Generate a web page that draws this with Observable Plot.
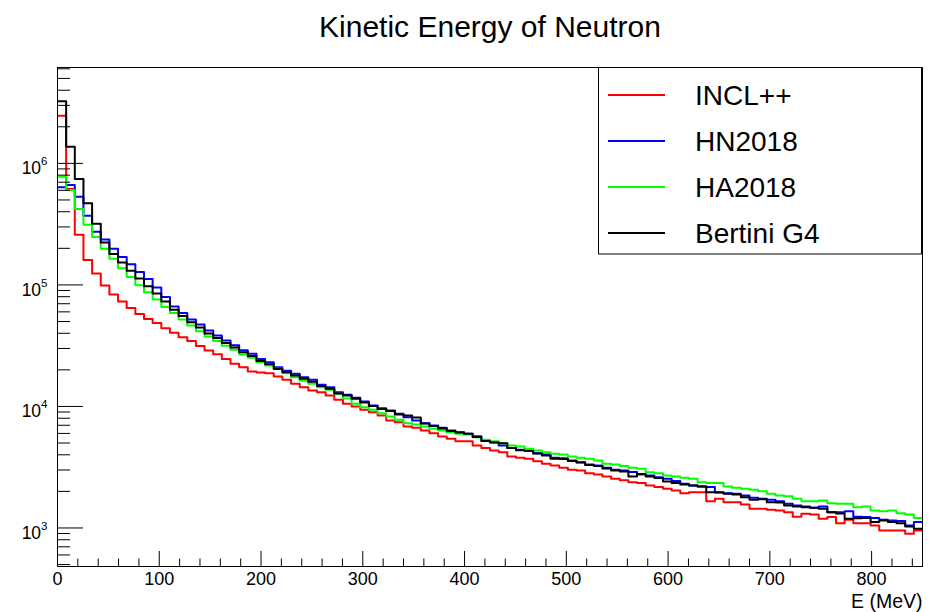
<!DOCTYPE html>
<html><head><meta charset="utf-8">
<script src="https://cdn.jsdelivr.net/npm/d3@7"></script>
<script src="https://cdn.jsdelivr.net/npm/@observablehq/plot@0.6"></script>
<style>
body{margin:0;background:#fff;}
#chart{width:939px;height:612px;position:relative;}
</style>
</head><body><div id="chart"></div>
<script>
const seriesNames = ["INCL++", "HN2018", "HA2018", "Bertini G4"];
const seriesColors = ["#ff0000", "#0000ff", "#00ff00", "#000000"];
const titleText = "Kinetic Energy of Neutron";
const xLabel = "E (MeV)";
const binWidth = 8.5;
const xMax = 850;
const xTickLabels = [0, 100, 200, 300, 400, 500, 600, 700, 800];
const yTickValues = [1e3, 1e4, 1e5, 1e6];

const incl = [2470000, 616000, 259000, 160000, 124000, 98700, 83200, 72900, 64700, 57700,
  52500, 48500, 43900, 40400, 37100, 34500, 31500, 28800, 26900, 24600,
  22500, 21000, 19400, 19000, 18750, 17600, 16550, 15350, 14400, 13500,
  13100, 12300, 11330, 10500, 9980, 9380, 8960, 8420, 7660, 7420,
  6830, 6670, 6340, 6020, 5660, 5410, 5170, 5170, 4770, 4560,
  4340, 4200, 3870, 3780, 3710, 3540, 3370, 3270, 3130, 3010,
  2970, 2820, 2750, 2650, 2540, 2470, 2380, 2340, 2240, 2170,
  2100, 2030, 1930, 1970, 1970, 1660, 1740, 1630, 1630, 1560,
  1440, 1440, 1410, 1390, 1350, 1240, 1310, 1290, 1190, 1230,
  1095, 1170, 1095, 1095, 1050, 954, 954, 954, 896, 954];

const hn2018 = [635000, 664000, 532000, 371000, 274000, 236000, 198000, 170000, 148000, 128000,
  111600, 95000, 79700, 66300, 58600, 52000, 47200, 42100, 38300, 34800,
  31900, 29000, 27100, 24600, 23100, 21000, 19700, 18550, 17400, 16550,
  15100, 14400, 13100, 12500, 11800, 11000, 10200, 9660, 9250, 8700,
  8150, 7660, 7270, 6960, 6670, 6340, 6140, 5950, 5690, 5240,
  5080, 4770, 4560, 4400, 4340, 4120, 4020, 3780, 3750, 3590,
  3480, 3330, 3270, 3130, 3010, 2970, 2890, 2750, 2700, 2620,
  2540, 2430, 2310, 2240, 2190, 2170, 1970, 1930, 1910, 1850,
  1770, 1740, 1710, 1660, 1580, 1530, 1500, 1470, 1500, 1350,
  1350, 1375, 1240, 1230, 1210, 1170, 1150, 1140, 1050, 1120];

const ha2018 = [777000, 604000, 422000, 313000, 248000, 198000, 164000, 137000, 116000, 99200,
  87000, 76000, 65700, 58600, 52000, 46300, 41500, 37600, 34600, 31600,
  29300, 26800, 25100, 23100, 21700, 20400, 18750, 17400, 16300, 15350,
  14400, 13700, 12700, 11600, 10500, 9850, 9380, 8800, 8260, 7760,
  7270, 7100, 6830, 6540, 6340, 6140, 5950, 5870, 5580, 5310,
  5170, 4980, 4770, 4680, 4480, 4340, 4200, 4080, 4020, 3870,
  3780, 3710, 3590, 3370, 3330, 3240, 3130, 3070, 2880, 2820,
  2700, 2650, 2590, 2540, 2380, 2340, 2340, 2190, 2140, 2100,
  2060, 2010, 1910, 1850, 1820, 1740, 1660, 1660, 1680, 1600,
  1580, 1580, 1480, 1500, 1390, 1375, 1390, 1320, 1290, 1210];

const bertini = [3240000, 1370000, 744000, 469000, 318000, 223000, 180000, 153000, 131000, 112700,
  97700, 84800, 72900, 62600, 55400, 49300, 44600, 39800, 36500, 33200,
  30500, 27900, 26000, 23700, 22200, 20300, 19100, 18000, 16900, 16000,
  14700, 14000, 12800, 12300, 11550, 10800, 10100, 9520, 9170, 8580,
  8420, 8100, 7230, 6900, 6580, 6280, 6100, 5950, 5600, 5190,
  5050, 4980, 4550, 4360, 4300, 4100, 3950, 3710, 3690, 3560,
  3460, 3300, 3240, 3090, 2970, 2910, 2650, 2780, 2650, 2580,
  2410, 2340, 2280, 2240, 2190, 1970, 1960, 1910, 1885, 1790,
  1710, 1720, 1630, 1620, 1530, 1500, 1480, 1470, 1440, 1350,
  1315, 1190, 1200, 1210, 1120, 1150, 1120, 1095, 1030, 985];

const allSeries = [incl, hn2018, ha2018, bertini];
const rows = [];
allSeries.forEach((vals, s) => {
  vals.forEach((v, i) => rows.push({series: seriesNames[s], e: i * binWidth, v}));
  rows.push({series: seriesNames[s], e: xMax, v: vals[vals.length - 1]});
});

const W = 939, H = 612, mt = 67, ml = 57, mr = 17, mb = 46;
const fw = W - ml - mr, fh = H - mt - mb;
const yDomain = [482, 6.15e6];
const majorX = xTickLabels;
const minorX = d3.range(0, xMax + 1, 20).filter(d => d % 100 !== 0);
const minorY = [];
for (let p = 2; p <= 6; p++) for (let m = 2; m <= 9; m++) {
  const v = m * Math.pow(10, p);
  if (v >= yDomain[0] && v <= yDomain[1]) minorY.push(v);
}
const font = "'Liberation Sans', Arial, Helvetica, sans-serif";

const plot = Plot.plot({
  width: W, height: H,
  marginTop: mt, marginLeft: ml, marginRight: mr, marginBottom: mb,
  style: {fontFamily: font, background: "white", color: "black", overflow: "visible"},
  x: {domain: [0, xMax], axis: null},
  y: {type: "log", domain: yDomain, axis: null},
  color: {domain: seriesNames, range: seriesColors},
  marks: [
    Plot.line(rows, {x: "e", y: "v", z: "series", stroke: "series", strokeWidth: 2, curve: "step-after", clip: true}),
    Plot.tickX(minorX, {x: d => d, insetTop: fh - 7.5, stroke: "black"}),
    Plot.tickX(majorX, {x: d => d, insetTop: fh - 15, stroke: "black"}),
    Plot.tickY(minorY, {y: d => d, insetRight: fw - 13, stroke: "black"}),
    Plot.tickY(yTickValues, {y: d => d, insetRight: fw - 26, stroke: "black"}),
    Plot.frame({stroke: "black"}),
    Plot.axisX({ticks: majorX, tickSize: 0, tickPadding: 6, fontSize: 18, label: null, tickFormat: d => String(d)}),
    Plot.axisY({ticks: yTickValues, tickSize: 0, tickPadding: 10, fontSize: 17.5, label: null, dy: 5,
      tickFormat: d => "10^" + Math.round(Math.log10(d))}),
    Plot.text([titleText], {frameAnchor: "top", lineAnchor: "middle", dy: -40, fontSize: 30, text: d => d}),
    Plot.text([xLabel], {frameAnchor: "bottom-right", lineAnchor: "middle", dy: 35, textAnchor: "end", fontSize: 19.5, text: d => d})
  ]
});

document.getElementById("chart").appendChild(plot);

// superscript exponents on y tick labels
d3.select(plot).selectAll('g[aria-label="y-axis tick label"] text').each(function() {
  const t = this.textContent;
  const parts = t.split("^");
  if (parts.length === 2) {
    const sel = d3.select(this);
    sel.text(parts[0]);
    sel.append("tspan").attr("dy", "-9").attr("font-size", 11.5).text(parts[1]);
  }
});

// legend box
const svg = d3.select(plot);
const lg = svg.append("g").attr("font-family", font).attr("text-anchor", "start");
lg.append("rect").attr("x", 598.5).attr("y", 67.5).attr("width", 323).attr("height", 186.5)
  .attr("fill", "white").attr("stroke", "black");
seriesNames.forEach((n, i) => {
  const y = 95 + 46 * i;
  lg.append("line").attr("x1", 608).attr("x2", 665).attr("y1", y).attr("y2", y)
    .attr("stroke", seriesColors[i]).attr("stroke-width", 2);
  lg.append("text").attr("x", 695).attr("y", y).attr("dy", "0.35em")
    .attr("text-anchor", "start").attr("font-size", 28).attr("fill", "black").text(n);
});
</script>
</body></html>
